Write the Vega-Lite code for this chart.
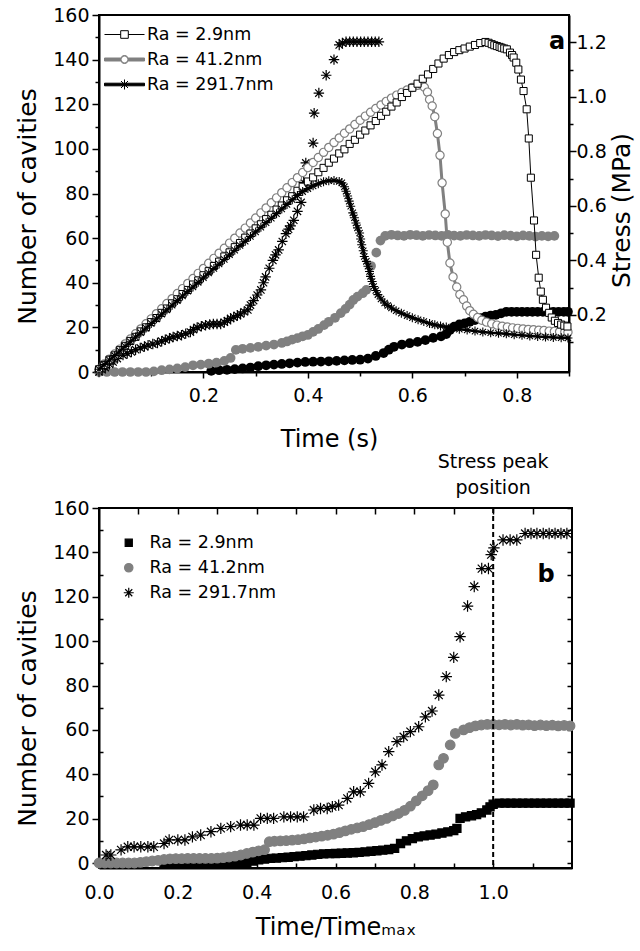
{
  "$schema": "https://vega.github.io/schema/vega-lite/v6.json",
  "padding": {"left": 14, "top": 5, "right": 2, "bottom": 0},
  "spacing": 0,
  "config": {
    "font": "DejaVu Sans",
    "view": {"stroke": "black", "strokeWidth": 2},
    "axis": {"domainColor": "black", "domainWidth": 2, "tickColor": "black", "tickWidth": 1.5, "labelColor": "black", "titleColor": "black", "labelFontSize": 19, "titleFontSize": 24, "titleFontWeight": "normal", "grid": false, "labelFont": "DejaVu Sans", "titleFont": "DejaVu Sans", "labelFlush": false, "labelOverlap": false},
    "legend": {"labelFont": "DejaVu Sans", "labelColor": "black", "labelFontSize": 17.5, "padding": 0}
  },
  "datasets": {
    "s29": [{"t":0,"s":0},{"t":0.01,"s":0.016},{"t":0.02,"s":0.035},{"t":0.03,"s":0.051},{"t":0.04,"s":0.07},{"t":0.05,"s":0.086},{"t":0.06,"s":0.104},{"t":0.07,"s":0.119},{"t":0.08,"s":0.139},{"t":0.09,"s":0.154},{"t":0.1,"s":0.173},{"t":0.11,"s":0.188},{"t":0.12,"s":0.207},{"t":0.13,"s":0.223},{"t":0.14,"s":0.242},{"t":0.15,"s":0.257},{"t":0.16,"s":0.276},{"t":0.17,"s":0.291},{"t":0.18,"s":0.311},{"t":0.19,"s":0.326},{"t":0.2,"s":0.345},{"t":0.21,"s":0.36},{"t":0.22,"s":0.379},{"t":0.23,"s":0.395},{"t":0.24,"s":0.414},{"t":0.25,"s":0.429},{"t":0.26,"s":0.448},{"t":0.27,"s":0.463},{"t":0.28,"s":0.483},{"t":0.29,"s":0.498},{"t":0.3,"s":0.517},{"t":0.31,"s":0.532},{"t":0.32,"s":0.551},{"t":0.33,"s":0.567},{"t":0.34,"s":0.586},{"t":0.35,"s":0.601},{"t":0.36,"s":0.62},{"t":0.37,"s":0.635},{"t":0.38,"s":0.655},{"t":0.39,"s":0.67},{"t":0.4,"s":0.689},{"t":0.41,"s":0.704},{"t":0.42,"s":0.723},{"t":0.43,"s":0.739},{"t":0.44,"s":0.758},{"t":0.45,"s":0.773},{"t":0.46,"s":0.792},{"t":0.47,"s":0.807},{"t":0.48,"s":0.827},{"t":0.49,"s":0.842},{"t":0.5,"s":0.861},{"t":0.51,"s":0.876},{"t":0.52,"s":0.895},{"t":0.53,"s":0.911},{"t":0.54,"s":0.93},{"t":0.55,"s":0.945},{"t":0.56,"s":0.964},{"t":0.57,"s":0.979},{"t":0.58,"s":0.999},{"t":0.59,"s":1.014},{"t":0.6,"s":1.033},{"t":0.61,"s":1.048},{"t":0.62,"s":1.066},{"t":0.63,"s":1.082},{"t":0.64,"s":1.102},{"t":0.65,"s":1.122},{"t":0.66,"s":1.14},{"t":0.67,"s":1.153},{"t":0.68,"s":1.164},{"t":0.69,"s":1.171},{"t":0.7,"s":1.177},{"t":0.71,"s":1.184},{"t":0.72,"s":1.19},{"t":0.73,"s":1.197},{"t":0.74,"s":1.201},{"t":0.746,"s":1.198},{"t":0.752,"s":1.193},{"t":0.757,"s":1.189},{"t":0.762,"s":1.186},{"t":0.767,"s":1.183},{"t":0.771,"s":1.18},{"t":0.776,"s":1.177},{"t":0.781,"s":1.174},{"t":0.787,"s":1.162},{"t":0.791,"s":1.153},{"t":0.794,"s":1.144},{"t":0.799,"s":1.125},{"t":0.803,"s":1.1},{"t":0.808,"s":1.063},{"t":0.813,"s":1.021},{"t":0.819,"s":0.954},{"t":0.823,"s":0.847},{"t":0.827,"s":0.703},{"t":0.833,"s":0.546},{"t":0.837,"s":0.42},{"t":0.842,"s":0.336},{"t":0.846,"s":0.285},{"t":0.85,"s":0.255},{"t":0.856,"s":0.226},{"t":0.862,"s":0.207},{"t":0.867,"s":0.19},{"t":0.873,"s":0.178},{"t":0.879,"s":0.17},{"t":0.885,"s":0.164},{"t":0.891,"s":0.16},{"t":0.897,"s":0.157}],
    "s412": [{"t":0,"s":0},{"t":0.01,"s":0.019},{"t":0.02,"s":0.037},{"t":0.03,"s":0.056},{"t":0.04,"s":0.074},{"t":0.05,"s":0.093},{"t":0.06,"s":0.111},{"t":0.07,"s":0.13},{"t":0.08,"s":0.148},{"t":0.09,"s":0.167},{"t":0.1,"s":0.185},{"t":0.11,"s":0.204},{"t":0.12,"s":0.222},{"t":0.13,"s":0.241},{"t":0.14,"s":0.259},{"t":0.15,"s":0.278},{"t":0.16,"s":0.296},{"t":0.17,"s":0.315},{"t":0.18,"s":0.333},{"t":0.19,"s":0.352},{"t":0.2,"s":0.37},{"t":0.21,"s":0.389},{"t":0.22,"s":0.407},{"t":0.23,"s":0.426},{"t":0.24,"s":0.444},{"t":0.25,"s":0.463},{"t":0.26,"s":0.481},{"t":0.27,"s":0.5},{"t":0.28,"s":0.518},{"t":0.29,"s":0.537},{"t":0.3,"s":0.555},{"t":0.31,"s":0.574},{"t":0.32,"s":0.592},{"t":0.33,"s":0.611},{"t":0.34,"s":0.629},{"t":0.35,"s":0.648},{"t":0.36,"s":0.666},{"t":0.37,"s":0.685},{"t":0.38,"s":0.703},{"t":0.39,"s":0.722},{"t":0.4,"s":0.74},{"t":0.41,"s":0.759},{"t":0.42,"s":0.777},{"t":0.43,"s":0.796},{"t":0.44,"s":0.814},{"t":0.45,"s":0.832},{"t":0.46,"s":0.849},{"t":0.47,"s":0.866},{"t":0.48,"s":0.882},{"t":0.49,"s":0.898},{"t":0.5,"s":0.914},{"t":0.51,"s":0.929},{"t":0.52,"s":0.943},{"t":0.53,"s":0.957},{"t":0.54,"s":0.97},{"t":0.55,"s":0.983},{"t":0.56,"s":0.995},{"t":0.57,"s":1.006},{"t":0.58,"s":1.016},{"t":0.59,"s":1.025},{"t":0.6,"s":1.034},{"t":0.61,"s":1.042},{"t":0.617,"s":1.045},{"t":0.623,"s":1.035},{"t":0.629,"s":1.017},{"t":0.633,"s":0.99},{"t":0.638,"s":0.966},{"t":0.643,"s":0.927},{"t":0.648,"s":0.865},{"t":0.653,"s":0.785},{"t":0.657,"s":0.684},{"t":0.663,"s":0.57},{"t":0.667,"s":0.466},{"t":0.672,"s":0.39},{"t":0.678,"s":0.339},{"t":0.685,"s":0.302},{"t":0.691,"s":0.274},{"t":0.698,"s":0.255},{"t":0.704,"s":0.232},{"t":0.71,"s":0.215},{"t":0.717,"s":0.202},{"t":0.725,"s":0.19},{"t":0.733,"s":0.18},{"t":0.742,"s":0.173},{"t":0.752,"s":0.167},{"t":0.762,"s":0.162},{"t":0.772,"s":0.158},{"t":0.782,"s":0.155},{"t":0.792,"s":0.152},{"t":0.802,"s":0.15},{"t":0.812,"s":0.148},{"t":0.822,"s":0.146},{"t":0.832,"s":0.145},{"t":0.842,"s":0.143},{"t":0.852,"s":0.142},{"t":0.862,"s":0.14},{"t":0.872,"s":0.139},{"t":0.882,"s":0.138},{"t":0.892,"s":0.137},{"t":0.898,"s":0.136}],
    "s2917": [{"t":0,"s":0},{"t":0.01,"s":0.017},{"t":0.02,"s":0.034},{"t":0.03,"s":0.05},{"t":0.04,"s":0.067},{"t":0.05,"s":0.084},{"t":0.06,"s":0.101},{"t":0.07,"s":0.118},{"t":0.08,"s":0.134},{"t":0.09,"s":0.151},{"t":0.1,"s":0.168},{"t":0.11,"s":0.185},{"t":0.12,"s":0.202},{"t":0.13,"s":0.218},{"t":0.14,"s":0.235},{"t":0.15,"s":0.252},{"t":0.16,"s":0.269},{"t":0.17,"s":0.286},{"t":0.18,"s":0.302},{"t":0.19,"s":0.319},{"t":0.2,"s":0.336},{"t":0.21,"s":0.353},{"t":0.22,"s":0.37},{"t":0.23,"s":0.386},{"t":0.24,"s":0.403},{"t":0.25,"s":0.42},{"t":0.26,"s":0.437},{"t":0.27,"s":0.454},{"t":0.28,"s":0.47},{"t":0.29,"s":0.487},{"t":0.3,"s":0.504},{"t":0.31,"s":0.521},{"t":0.32,"s":0.538},{"t":0.33,"s":0.554},{"t":0.34,"s":0.571},{"t":0.35,"s":0.588},{"t":0.36,"s":0.605},{"t":0.37,"s":0.622},{"t":0.38,"s":0.638},{"t":0.39,"s":0.652},{"t":0.4,"s":0.663},{"t":0.41,"s":0.673},{"t":0.42,"s":0.681},{"t":0.43,"s":0.688},{"t":0.44,"s":0.692},{"t":0.45,"s":0.693},{"t":0.46,"s":0.689},{"t":0.465,"s":0.684},{"t":0.47,"s":0.67},{"t":0.473,"s":0.653},{"t":0.476,"s":0.636},{"t":0.479,"s":0.617},{"t":0.482,"s":0.598},{"t":0.486,"s":0.574},{"t":0.489,"s":0.556},{"t":0.492,"s":0.537},{"t":0.495,"s":0.519},{"t":0.499,"s":0.5},{"t":0.501,"s":0.478},{"t":0.503,"s":0.457},{"t":0.506,"s":0.435},{"t":0.508,"s":0.414},{"t":0.512,"s":0.396},{"t":0.515,"s":0.378},{"t":0.518,"s":0.359},{"t":0.52,"s":0.341},{"t":0.523,"s":0.322},{"t":0.526,"s":0.304},{"t":0.53,"s":0.289},{"t":0.534,"s":0.274},{"t":0.54,"s":0.258},{"t":0.547,"s":0.243},{"t":0.553,"s":0.234},{"t":0.56,"s":0.225},{"t":0.569,"s":0.215},{"t":0.579,"s":0.206},{"t":0.59,"s":0.197},{"t":0.6,"s":0.189},{"t":0.611,"s":0.182},{"t":0.622,"s":0.175},{"t":0.633,"s":0.168},{"t":0.643,"s":0.163},{"t":0.654,"s":0.159},{"t":0.665,"s":0.155},{"t":0.675,"s":0.151},{"t":0.69,"s":0.147},{"t":0.705,"s":0.144},{"t":0.72,"s":0.14},{"t":0.735,"s":0.137},{"t":0.75,"s":0.134},{"t":0.765,"s":0.132},{"t":0.78,"s":0.13},{"t":0.795,"s":0.127},{"t":0.81,"s":0.125},{"t":0.825,"s":0.122},{"t":0.84,"s":0.12},{"t":0.855,"s":0.118},{"t":0.87,"s":0.117},{"t":0.885,"s":0.116},{"t":0.898,"s":0.115}],
    "c29": [{"t":0.215,"n":0.5},{"t":0.23,"n":0.8},{"t":0.245,"n":1},{"t":0.26,"n":1.3},{"t":0.275,"n":1.6},{"t":0.29,"n":2},{"t":0.305,"n":2.6},{"t":0.32,"n":3},{"t":0.335,"n":3.3},{"t":0.35,"n":3.6},{"t":0.365,"n":3.9},{"t":0.38,"n":4.2},{"t":0.395,"n":4.5},{"t":0.41,"n":4.6},{"t":0.425,"n":4.7},{"t":0.44,"n":4.8},{"t":0.455,"n":5},{"t":0.47,"n":5.2},{"t":0.485,"n":5.4},{"t":0.5,"n":5.5},{"t":0.515,"n":6},{"t":0.53,"n":7.2},{"t":0.545,"n":8.5},{"t":0.555,"n":10},{"t":0.565,"n":11.3},{"t":0.58,"n":12.3},{"t":0.595,"n":12.9},{"t":0.61,"n":13.5},{"t":0.625,"n":14.3},{"t":0.64,"n":15.3},{"t":0.655,"n":16},{"t":0.665,"n":17},{"t":0.672,"n":18.8},{"t":0.68,"n":20.3},{"t":0.69,"n":21.3},{"t":0.7,"n":21.8},{"t":0.71,"n":22.5},{"t":0.72,"n":23.3},{"t":0.73,"n":24.1},{"t":0.74,"n":24.8},{"t":0.75,"n":25.3},{"t":0.76,"n":25.6},{"t":0.77,"n":26.3},{"t":0.78,"n":27},{"t":0.79,"n":27},{"t":0.8,"n":27},{"t":0.81,"n":27},{"t":0.82,"n":27},{"t":0.83,"n":27},{"t":0.84,"n":27},{"t":0.85,"n":27},{"t":0.86,"n":27},{"t":0.87,"n":27},{"t":0.88,"n":27},{"t":0.89,"n":27},{"t":0.898,"n":27}],
    "c412": [{"t":0,"n":0},{"t":0.015,"n":0},{"t":0.03,"n":0},{"t":0.045,"n":0},{"t":0.06,"n":0},{"t":0.075,"n":0},{"t":0.09,"n":0},{"t":0.105,"n":0.3},{"t":0.12,"n":0.8},{"t":0.135,"n":1.2},{"t":0.15,"n":1.6},{"t":0.165,"n":2.2},{"t":0.18,"n":3},{"t":0.195,"n":3.3},{"t":0.21,"n":3.7},{"t":0.225,"n":4.2},{"t":0.24,"n":5},{"t":0.252,"n":6.3},{"t":0.262,"n":9.9},{"t":0.275,"n":10.4},{"t":0.29,"n":10.8},{"t":0.305,"n":11.3},{"t":0.32,"n":11.8},{"t":0.335,"n":12.3},{"t":0.35,"n":13},{"t":0.36,"n":13.7},{"t":0.37,"n":14.5},{"t":0.38,"n":15.2},{"t":0.39,"n":16},{"t":0.4,"n":16.6},{"t":0.41,"n":18},{"t":0.42,"n":19.3},{"t":0.431,"n":21},{"t":0.44,"n":22.5},{"t":0.452,"n":24.3},{"t":0.463,"n":26.4},{"t":0.472,"n":28.3},{"t":0.48,"n":30.2},{"t":0.487,"n":32.3},{"t":0.495,"n":33.8},{"t":0.505,"n":35.3},{"t":0.512,"n":36.8},{"t":0.521,"n":47.5},{"t":0.531,"n":53.5},{"t":0.539,"n":58.9},{"t":0.548,"n":61},{"t":0.56,"n":61.5},{"t":0.572,"n":61.2},{"t":0.584,"n":61},{"t":0.596,"n":61.5},{"t":0.608,"n":61.3},{"t":0.62,"n":61},{"t":0.632,"n":61.4},{"t":0.644,"n":61.2},{"t":0.656,"n":61},{"t":0.668,"n":61.5},{"t":0.68,"n":61.1},{"t":0.692,"n":61},{"t":0.704,"n":61.4},{"t":0.716,"n":61.2},{"t":0.728,"n":61},{"t":0.74,"n":61.4},{"t":0.752,"n":61.2},{"t":0.764,"n":60.9},{"t":0.776,"n":61.3},{"t":0.788,"n":61.1},{"t":0.8,"n":60.8},{"t":0.812,"n":61.2},{"t":0.824,"n":61},{"t":0.836,"n":60.7},{"t":0.848,"n":61},{"t":0.86,"n":60.8},{"t":0.872,"n":61}],
    "c2917": [{"t":0,"n":0},{"t":0.006,"n":1},{"t":0.012,"n":2},{"t":0.02,"n":3.5},{"t":0.027,"n":4.5},{"t":0.035,"n":6},{"t":0.046,"n":7.6},{"t":0.054,"n":8.3},{"t":0.062,"n":9},{"t":0.07,"n":10},{"t":0.079,"n":10.8},{"t":0.087,"n":11.4},{"t":0.094,"n":12},{"t":0.103,"n":12.5},{"t":0.112,"n":13},{"t":0.12,"n":13.8},{"t":0.127,"n":14.5},{"t":0.135,"n":15.1},{"t":0.142,"n":15.7},{"t":0.15,"n":16.1},{"t":0.158,"n":16.5},{"t":0.166,"n":17.2},{"t":0.175,"n":17.9},{"t":0.181,"n":19},{"t":0.188,"n":20},{"t":0.196,"n":20.5},{"t":0.204,"n":21},{"t":0.212,"n":21.3},{"t":0.219,"n":21.5},{"t":0.226,"n":21.5},{"t":0.233,"n":21.5},{"t":0.24,"n":22.3},{"t":0.246,"n":23},{"t":0.252,"n":24},{"t":0.258,"n":24.6},{"t":0.265,"n":25.3},{"t":0.271,"n":26},{"t":0.278,"n":27},{"t":0.285,"n":27.8},{"t":0.29,"n":30},{"t":0.296,"n":32},{"t":0.303,"n":34.5},{"t":0.31,"n":36.8},{"t":0.315,"n":40},{"t":0.319,"n":42.6},{"t":0.326,"n":46.5},{"t":0.333,"n":50},{"t":0.338,"n":52.5},{"t":0.344,"n":54.7},{"t":0.351,"n":58.5},{"t":0.358,"n":62},{"t":0.363,"n":64},{"t":0.367,"n":65.5},{"t":0.373,"n":68},{"t":0.38,"n":72},{"t":0.387,"n":76},{"t":0.392,"n":85},{"t":0.396,"n":93.7},{"t":0.41,"n":102.6},{"t":0.412,"n":116},{"t":0.421,"n":125},{"t":0.435,"n":133},{"t":0.45,"n":140},{"t":0.46,"n":146.6},{"t":0.466,"n":147.5},{"t":0.473,"n":148},{"t":0.48,"n":148},{"t":0.487,"n":148},{"t":0.494,"n":148},{"t":0.501,"n":148},{"t":0.508,"n":148},{"t":0.515,"n":148},{"t":0.522,"n":148},{"t":0.529,"n":148},{"t":0.536,"n":148}],
    "pb": [
      {"ra":"2.9","tn":0.165,"n":0},{"ra":"2.9","tn":0.18,"n":0},{"ra":"2.9","tn":0.195,"n":0},{"ra":"2.9","tn":0.21,"n":0},{"ra":"2.9","tn":0.225,"n":0},{"ra":"2.9","tn":0.24,"n":0},{"ra":"2.9","tn":0.255,"n":0},{"ra":"2.9","tn":0.27,"n":0},{"ra":"2.9","tn":0.285,"n":0},{"ra":"2.9","tn":0.3,"n":0},{"ra":"2.9","tn":0.315,"n":0},{"ra":"2.9","tn":0.33,"n":0},{"ra":"2.9","tn":0.345,"n":0},{"ra":"2.9","tn":0.36,"n":0},{"ra":"2.9","tn":0.375,"n":0.3},{"ra":"2.9","tn":0.39,"n":0.9},{"ra":"2.9","tn":0.405,"n":1.4},{"ra":"2.9","tn":0.42,"n":1.8},{"ra":"2.9","tn":0.435,"n":2.1},{"ra":"2.9","tn":0.45,"n":2.2},{"ra":"2.9","tn":0.465,"n":2.4},{"ra":"2.9","tn":0.48,"n":2.6},{"ra":"2.9","tn":0.495,"n":2.9},{"ra":"2.9","tn":0.51,"n":3.1},{"ra":"2.9","tn":0.525,"n":3.3},{"ra":"2.9","tn":0.54,"n":3.6},{"ra":"2.9","tn":0.555,"n":3.9},{"ra":"2.9","tn":0.57,"n":4.1},{"ra":"2.9","tn":0.585,"n":4.2},{"ra":"2.9","tn":0.6,"n":4.3},{"ra":"2.9","tn":0.615,"n":4.4},{"ra":"2.9","tn":0.63,"n":4.5},{"ra":"2.9","tn":0.645,"n":4.6},{"ra":"2.9","tn":0.66,"n":4.8},{"ra":"2.9","tn":0.675,"n":5},{"ra":"2.9","tn":0.69,"n":5.3},{"ra":"2.9","tn":0.705,"n":5.5},{"ra":"2.9","tn":0.72,"n":5.8},{"ra":"2.9","tn":0.735,"n":6.1},{"ra":"2.9","tn":0.75,"n":6.6},{"ra":"2.9","tn":0.765,"n":8.8},{"ra":"2.9","tn":0.78,"n":10},{"ra":"2.9","tn":0.795,"n":11},{"ra":"2.9","tn":0.81,"n":11.8},{"ra":"2.9","tn":0.825,"n":12.2},{"ra":"2.9","tn":0.84,"n":12.6},{"ra":"2.9","tn":0.855,"n":13},{"ra":"2.9","tn":0.87,"n":13.5},{"ra":"2.9","tn":0.885,"n":14},{"ra":"2.9","tn":0.9,"n":14.6},{"ra":"2.9","tn":0.908,"n":15.6},{"ra":"2.9","tn":0.916,"n":20.1},{"ra":"2.9","tn":0.93,"n":20.8},{"ra":"2.9","tn":0.945,"n":21.3},{"ra":"2.9","tn":0.958,"n":21.8},{"ra":"2.9","tn":0.97,"n":22.6},{"ra":"2.9","tn":0.984,"n":23.9},{"ra":"2.9","tn":0.992,"n":25.3},{"ra":"2.9","tn":1.0,"n":26.5},{"ra":"2.9","tn":1.015,"n":27},{"ra":"2.9","tn":1.03,"n":27},{"ra":"2.9","tn":1.045,"n":27},{"ra":"2.9","tn":1.06,"n":27},{"ra":"2.9","tn":1.075,"n":27},{"ra":"2.9","tn":1.09,"n":27},{"ra":"2.9","tn":1.105,"n":27},{"ra":"2.9","tn":1.12,"n":27},{"ra":"2.9","tn":1.135,"n":27},{"ra":"2.9","tn":1.15,"n":27},{"ra":"2.9","tn":1.165,"n":27},{"ra":"2.9","tn":1.18,"n":27},{"ra":"2.9","tn":1.195,"n":27},
      {"ra":"41.2","tn":0,"n":0},{"ra":"41.2","tn":0.015,"n":0},{"ra":"41.2","tn":0.03,"n":0},{"ra":"41.2","tn":0.045,"n":0},{"ra":"41.2","tn":0.06,"n":0},{"ra":"41.2","tn":0.075,"n":0},{"ra":"41.2","tn":0.09,"n":0},{"ra":"41.2","tn":0.105,"n":0.3},{"ra":"41.2","tn":0.12,"n":0.6},{"ra":"41.2","tn":0.135,"n":0.9},{"ra":"41.2","tn":0.15,"n":1.2},{"ra":"41.2","tn":0.165,"n":1.6},{"ra":"41.2","tn":0.18,"n":1.9},{"ra":"41.2","tn":0.195,"n":2},{"ra":"41.2","tn":0.21,"n":2},{"ra":"41.2","tn":0.225,"n":2.1},{"ra":"41.2","tn":0.24,"n":2.1},{"ra":"41.2","tn":0.255,"n":2.1},{"ra":"41.2","tn":0.27,"n":2.1},{"ra":"41.2","tn":0.285,"n":2.1},{"ra":"41.2","tn":0.3,"n":2.2},{"ra":"41.2","tn":0.315,"n":2.4},{"ra":"41.2","tn":0.33,"n":2.7},{"ra":"41.2","tn":0.345,"n":3.1},{"ra":"41.2","tn":0.36,"n":3.6},{"ra":"41.2","tn":0.375,"n":4.3},{"ra":"41.2","tn":0.39,"n":4.9},{"ra":"41.2","tn":0.405,"n":5.5},{"ra":"41.2","tn":0.42,"n":6},{"ra":"41.2","tn":0.432,"n":9.6},{"ra":"41.2","tn":0.445,"n":9.8},{"ra":"41.2","tn":0.46,"n":10},{"ra":"41.2","tn":0.475,"n":10.1},{"ra":"41.2","tn":0.49,"n":10.3},{"ra":"41.2","tn":0.505,"n":10.5},{"ra":"41.2","tn":0.52,"n":10.9},{"ra":"41.2","tn":0.535,"n":11.3},{"ra":"41.2","tn":0.55,"n":11.7},{"ra":"41.2","tn":0.565,"n":12.1},{"ra":"41.2","tn":0.58,"n":12.5},{"ra":"41.2","tn":0.595,"n":13},{"ra":"41.2","tn":0.61,"n":13.7},{"ra":"41.2","tn":0.625,"n":14.5},{"ra":"41.2","tn":0.64,"n":15.2},{"ra":"41.2","tn":0.655,"n":15.8},{"ra":"41.2","tn":0.67,"n":16.4},{"ra":"41.2","tn":0.685,"n":17.3},{"ra":"41.2","tn":0.7,"n":18.2},{"ra":"41.2","tn":0.715,"n":19.2},{"ra":"41.2","tn":0.73,"n":20.1},{"ra":"41.2","tn":0.745,"n":21.2},{"ra":"41.2","tn":0.76,"n":22.3},{"ra":"41.2","tn":0.775,"n":23.7},{"ra":"41.2","tn":0.79,"n":25.6},{"ra":"41.2","tn":0.805,"n":28},{"ra":"41.2","tn":0.82,"n":30.3},{"ra":"41.2","tn":0.835,"n":32.6},{"ra":"41.2","tn":0.848,"n":35.2},{"ra":"41.2","tn":0.862,"n":44.2},{"ra":"41.2","tn":0.874,"n":47.2},{"ra":"41.2","tn":0.891,"n":53.2},{"ra":"41.2","tn":0.904,"n":58.4},{"ra":"41.2","tn":0.925,"n":60},{"ra":"41.2","tn":0.94,"n":61},{"ra":"41.2","tn":0.955,"n":61.8},{"ra":"41.2","tn":0.97,"n":62.2},{"ra":"41.2","tn":0.985,"n":62.5},{"ra":"41.2","tn":1.0,"n":62.5},{"ra":"41.2","tn":1.015,"n":62.3},{"ra":"41.2","tn":1.03,"n":62.5},{"ra":"41.2","tn":1.045,"n":62.2},{"ra":"41.2","tn":1.06,"n":62.5},{"ra":"41.2","tn":1.075,"n":62.1},{"ra":"41.2","tn":1.09,"n":62.3},{"ra":"41.2","tn":1.105,"n":61.9},{"ra":"41.2","tn":1.12,"n":62.2},{"ra":"41.2","tn":1.135,"n":61.9},{"ra":"41.2","tn":1.15,"n":62.1},{"ra":"41.2","tn":1.165,"n":61.8},{"ra":"41.2","tn":1.18,"n":62},{"ra":"41.2","tn":1.195,"n":61.8},
      {"ra":"291.7","tn":0.018,"n":3.6},{"ra":"291.7","tn":0.03,"n":3.6},{"ra":"291.7","tn":0.056,"n":5.9},{"ra":"291.7","tn":0.073,"n":7.3},{"ra":"291.7","tn":0.089,"n":7.3},{"ra":"291.7","tn":0.106,"n":7.3},{"ra":"291.7","tn":0.124,"n":7.3},{"ra":"291.7","tn":0.139,"n":7.3},{"ra":"291.7","tn":0.165,"n":8.8},{"ra":"291.7","tn":0.178,"n":10.4},{"ra":"291.7","tn":0.2,"n":10.4},{"ra":"291.7","tn":0.218,"n":10.4},{"ra":"291.7","tn":0.237,"n":11.8},{"ra":"291.7","tn":0.258,"n":12.6},{"ra":"291.7","tn":0.284,"n":14.1},{"ra":"291.7","tn":0.309,"n":15.6},{"ra":"291.7","tn":0.334,"n":16.4},{"ra":"291.7","tn":0.359,"n":17.1},{"ra":"291.7","tn":0.376,"n":17.1},{"ra":"291.7","tn":0.393,"n":17.1},{"ra":"291.7","tn":0.41,"n":20.1},{"ra":"291.7","tn":0.427,"n":20.1},{"ra":"291.7","tn":0.443,"n":20.1},{"ra":"291.7","tn":0.469,"n":20.8},{"ra":"291.7","tn":0.486,"n":20.8},{"ra":"291.7","tn":0.503,"n":20.8},{"ra":"291.7","tn":0.519,"n":20.8},{"ra":"291.7","tn":0.545,"n":23.9},{"ra":"291.7","tn":0.562,"n":24.6},{"ra":"291.7","tn":0.579,"n":24.6},{"ra":"291.7","tn":0.592,"n":25.4},{"ra":"291.7","tn":0.608,"n":26.1},{"ra":"291.7","tn":0.63,"n":29.1},{"ra":"291.7","tn":0.646,"n":32.1},{"ra":"291.7","tn":0.663,"n":32.1},{"ra":"291.7","tn":0.684,"n":35.9},{"ra":"291.7","tn":0.701,"n":41.1},{"ra":"291.7","tn":0.718,"n":44.2},{"ra":"291.7","tn":0.735,"n":50.2},{"ra":"291.7","tn":0.756,"n":54.7},{"ra":"291.7","tn":0.773,"n":56.9},{"ra":"291.7","tn":0.79,"n":59.2},{"ra":"291.7","tn":0.811,"n":61.4},{"ra":"291.7","tn":0.828,"n":65.9},{"ra":"291.7","tn":0.845,"n":68.5},{"ra":"291.7","tn":0.862,"n":75.7},{"ra":"291.7","tn":0.881,"n":84},{"ra":"291.7","tn":0.9,"n":92.7},{"ra":"291.7","tn":0.916,"n":102},{"ra":"291.7","tn":0.935,"n":115.8},{"ra":"291.7","tn":0.952,"n":124.6},{"ra":"291.7","tn":0.971,"n":132.7},{"ra":"291.7","tn":0.988,"n":132.7},{"ra":"291.7","tn":0.995,"n":139},{"ra":"291.7","tn":1.002,"n":142},{"ra":"291.7","tn":1.025,"n":145.6},{"ra":"291.7","tn":1.043,"n":145.6},{"ra":"291.7","tn":1.06,"n":145.6},{"ra":"291.7","tn":1.081,"n":148.5},{"ra":"291.7","tn":1.096,"n":148.5},{"ra":"291.7","tn":1.111,"n":148.5},{"ra":"291.7","tn":1.127,"n":148.5},{"ra":"291.7","tn":1.142,"n":148.5},{"ra":"291.7","tn":1.157,"n":148.5},{"ra":"291.7","tn":1.172,"n":148.5},{"ra":"291.7","tn":1.187,"n":148.5}
    ],
    "peak": [{"tn": 1.0}]
  },
  "resolve": {"scale": {"shape": "independent", "fill": "independent", "stroke": "independent"}, "legend": {"shape": "independent", "fill": "independent", "stroke": "independent"}},
  "vconcat": [
    {
      "width": 470,
      "height": 357,
      "layer": [
        {
          "layer": [
            {
              "data": {"name": "c29"},
              "mark": {"type": "point", "shape": "circle", "filled": true, "fill": "black", "size": 95, "opacity": 1},
              "encoding": {
                "x": {"field": "t", "type": "quantitative", "scale": {"domain": [0, 0.9], "nice": false, "zero": false},
                  "axis": {"orient": "bottom", "title": "Time (s)", "titleX": 230, "values": [0.1, 0.2, 0.3, 0.4, 0.5, 0.6, 0.7, 0.8, 0.9], "format": ".1f", "labelExpr": "round(datum.value*10) % 2 == 0 ? datum.label : ''", "tickSize": {"condition": {"test": "round(datum.value*10) % 2 == 0", "value": 6}, "value": 4}, "labelPadding": 8, "titlePadding": 22}},
                "y": {"field": "n", "type": "quantitative", "scale": {"domain": [0, 160], "nice": false},
                  "axis": {"orient": "left", "title": "Number of cavities", "titleFontSize": 25, "titleY": 191, "values": [0, 10, 20, 30, 40, 50, 60, 70, 80, 90, 100, 110, 120, 130, 140, 150, 160], "labelExpr": "datum.value % 20 == 0 ? datum.label : ''", "tickSize": {"condition": {"test": "datum.value % 20 == 0", "value": 7}, "value": 4}, "labelPadding": 3, "titlePadding": 12}}
              }
            },
            {
              "data": {"name": "c412"},
              "mark": {"type": "point", "shape": "circle", "filled": true, "fill": "#808080", "size": 95, "opacity": 1},
              "encoding": {
                "x": {"field": "t", "type": "quantitative", "axis": null},
                "y": {"field": "n", "type": "quantitative", "axis": null}
              }
            },
            {
              "data": {"name": "c2917"},
              "mark": {"type": "point", "shape": "M0,-1V1M-1,0H1M-0.7,-0.7L0.7,0.7M-0.7,0.7L0.7,-0.7", "filled": false, "stroke": "black", "strokeWidth": 1.2, "size": 110, "opacity": 1},
              "encoding": {
                "x": {"field": "t", "type": "quantitative", "axis": null},
                "y": {"field": "n", "type": "quantitative", "axis": null}
              }
            },
            {
              "data": {"values": [{"label": "a"}]},
              "mark": {"type": "text", "fontSize": 24, "fontWeight": "bold", "color": "black"},
              "encoding": {
                "text": {"field": "label"},
                "x": {"datum": 0.877, "type": "quantitative", "axis": null},
                "y": {"datum": 148, "type": "quantitative", "axis": null}
              }
            }
          ],
          "resolve": {"axis": {"x": "independent", "y": "independent"}}
        },
        {
          "layer": [
            {
              "data": {"name": "s412"},
              "mark": {"type": "line", "stroke": "#808080", "strokeWidth": 3},
              "encoding": {
                "x": {"field": "t", "type": "quantitative", "axis": null},
                "y": {"field": "s", "type": "quantitative", "scale": {"domain": [-0.01, 1.3], "nice": false, "zero": false},
                  "axis": {"orient": "right", "title": "Stress (MPa)", "titleFontSize": 25, "titleY": 195, "titleAngle": 270, "titleBaseline": "top", "values": [0.1, 0.2, 0.3, 0.4, 0.5, 0.6, 0.7, 0.8, 0.9, 1.0, 1.1, 1.2], "format": ".1f", "labelExpr": "round(datum.value*10) % 2 == 0 ? datum.label : ''", "tickSize": {"condition": {"test": "round(datum.value*10) % 2 == 0", "value": 7}, "value": 4}, "labelPadding": 0, "titlePadding": 3}}
              }
            },
            {
              "data": {"name": "s412"},
              "mark": {"type": "point", "shape": "circle", "filled": true, "fill": "white", "stroke": "#808080", "strokeWidth": 1.2, "size": 68, "opacity": 1},
              "encoding": {
                "x": {"field": "t", "type": "quantitative", "axis": null},
                "y": {"field": "s", "type": "quantitative", "axis": null}
              }
            },
            {
              "data": {"name": "s29"},
              "mark": {"type": "line", "stroke": "black", "strokeWidth": 1},
              "encoding": {
                "x": {"field": "t", "type": "quantitative", "axis": null},
                "y": {"field": "s", "type": "quantitative", "axis": null}
              }
            },
            {
              "data": {"name": "s29"},
              "mark": {"type": "point", "shape": "square", "filled": true, "fill": "white", "stroke": "black", "strokeWidth": 1, "size": 50, "opacity": 1},
              "encoding": {
                "x": {"field": "t", "type": "quantitative", "axis": null},
                "y": {"field": "s", "type": "quantitative", "axis": null}
              }
            },
            {
              "data": {"name": "s2917"},
              "mark": {"type": "line", "stroke": "black", "strokeWidth": 2.5},
              "encoding": {
                "x": {"field": "t", "type": "quantitative", "axis": null},
                "y": {"field": "s", "type": "quantitative", "axis": null}
              }
            },
            {
              "data": {"name": "s2917"},
              "mark": {"type": "point", "shape": "M0,-1V1M-1,0H1M-0.7,-0.7L0.7,0.7M-0.7,0.7L0.7,-0.7", "filled": false, "stroke": "black", "strokeWidth": 1.1, "size": 81, "opacity": 1},
              "encoding": {
                "x": {"field": "t", "type": "quantitative", "axis": null},
                "y": {"field": "s", "type": "quantitative", "axis": null}
              }
            },
            {
              "data": {"name": "s29"},
              "transform": [{"filter": "datum.t < 0"}],
              "mark": {"type": "point", "filled": true, "opacity": 1, "strokeWidth": 1},
              "encoding": {
                "x": {"field": "t", "type": "quantitative", "axis": null},
                "y": {"field": "s", "type": "quantitative", "axis": null},
                "shape": {"field": "ra", "type": "nominal",
                  "scale": {"domain": ["2.9", "41.2", "291.7"], "range": ["M-2,0H-0.38M0.38,0H2M-0.38,-0.38H0.38V0.38H-0.38Z", "M-2,-0.15H-0.4V0.15H-2ZM0.4,-0.15H2V0.15H0.4ZM0.4,0A0.4,0.4,0,1,1,-0.4,0A0.4,0.4,0,1,1,0.4,0ZM0.34,0A0.34,0.34,0,1,0,-0.34,0A0.34,0.34,0,1,0,0.34,0Z", "M-2,-0.13H2V0.13H-2ZM0,-0.5V0.5M-0.35,-0.35L0.35,0.35M-0.35,0.35L0.35,-0.35"]},
                  "legend": {"title": null, "orient": "none", "legendX": 15, "legendY": 9, "symbolSize": 400, "symbolStrokeWidth": 1, "labelOffset": 12, "rowPadding": 6, "labelFontSize": 17.5, "labelExpr": "'Ra = ' + datum.label + 'nm'"}},
                "fill": {"field": "ra", "type": "nominal",
                  "scale": {"domain": ["2.9", "41.2", "291.7"], "range": ["white", "#808080", "black"]},
                  "legend": {"title": null, "orient": "none", "legendX": 15, "legendY": 9, "symbolSize": 400, "symbolStrokeWidth": 1, "labelOffset": 12, "rowPadding": 6, "labelFontSize": 17.5, "labelExpr": "'Ra = ' + datum.label + 'nm'"}},
                "stroke": {"field": "ra", "type": "nominal",
                  "scale": {"domain": ["2.9", "41.2", "291.7"], "range": ["black", "#808080", "black"]},
                  "legend": {"title": null, "orient": "none", "legendX": 15, "legendY": 9, "symbolSize": 400, "symbolStrokeWidth": 1, "labelOffset": 12, "rowPadding": 6, "labelFontSize": 17.5, "labelExpr": "'Ra = ' + datum.label + 'nm'"}}
              }
            }
          ],
          "resolve": {"axis": {"x": "independent", "y": "independent"}}
        }
      ],
      "resolve": {"scale": {"y": "independent"}, "axis": {"x": "independent", "y": "independent"}}
    },
    {
      "width": 473,
      "height": 360,
      "layer": [
        {
          "data": {"name": "pb"},
          "mark": {"type": "point", "filled": true, "opacity": 1, "strokeWidth": 1.2, "size": 144},
          "encoding": {
            "x": {"field": "tn", "type": "quantitative", "scale": {"domain": [0, 1.2], "nice": false, "zero": false},
              "axis": {"orient": "bottom", "title": "Time/Timeₘₐₓ", "values": [0, 0.1, 0.2, 0.3, 0.4, 0.5, 0.6, 0.7, 0.8, 0.9, 1.0, 1.1], "format": ".1f", "labelExpr": "round(datum.value*10) % 2 == 0 ? datum.label : ''", "tickSize": -5, "labelPadding": 20, "titlePadding": 13}},
            "y": {"field": "n", "type": "quantitative", "scale": {"domain": [-2.25, 160], "nice": false, "zero": false},
              "axis": {"orient": "left", "title": "Number of cavities", "titleFontSize": 25, "titleY": 200, "values": [0, 10, 20, 30, 40, 50, 60, 70, 80, 90, 100, 110, 120, 130, 140, 150, 160], "labelExpr": "datum.value % 20 == 0 ? datum.label : ''", "tickSize": {"condition": {"test": "datum.value % 20 == 0", "value": 7}, "value": -4}, "labelPadding": 3, "titlePadding": 12}},
            "shape": {"field": "ra", "type": "nominal",
              "scale": {"domain": ["2.9", "41.2", "291.7"], "range": ["M-0.68,-0.68H0.68V0.68H-0.68Z", "M0.8,0A0.8,0.8,0,1,1,-0.8,0A0.8,0.8,0,1,1,0.8,0Z", "M0,-0.95V0.95M-0.95,0H0.95M-0.67,-0.67L0.67,0.67M-0.67,0.67L0.67,-0.67"]},
              "legend": {"title": null, "orient": "none", "legendX": 21, "legendY": 26, "symbolSize": 110, "symbolStrokeWidth": 1.2, "labelOffset": 12, "rowPadding": 6, "labelFontSize": 17.5, "labelExpr": "'Ra = ' + datum.label + 'nm'"}},
            "fill": {"field": "ra", "type": "nominal",
              "scale": {"domain": ["2.9", "41.2", "291.7"], "range": ["black", "#808080", "transparent"]},
              "legend": {"title": null, "orient": "none", "legendX": 21, "legendY": 26, "symbolSize": 110, "symbolStrokeWidth": 1.2, "labelOffset": 12, "rowPadding": 6, "labelFontSize": 17.5, "labelExpr": "'Ra = ' + datum.label + 'nm'"}},
            "stroke": {"field": "ra", "type": "nominal",
              "scale": {"domain": ["2.9", "41.2", "291.7"], "range": ["black", "#808080", "black"]},
              "legend": {"title": null, "orient": "none", "legendX": 21, "legendY": 26, "symbolSize": 110, "symbolStrokeWidth": 1.2, "labelOffset": 12, "rowPadding": 6, "labelFontSize": 17.5, "labelExpr": "'Ra = ' + datum.label + 'nm'"}}
          }
        },
        {
          "data": {"name": "peak"},
          "mark": {"type": "rule", "stroke": "black", "strokeWidth": 2, "strokeDash": [5, 3]},
          "encoding": {
            "x": {"field": "tn", "type": "quantitative",
              "axis": {"orient": "top", "title": null, "values": [0.1, 0.2, 0.3, 0.4, 0.5, 0.6, 0.7, 0.8, 0.9, 1.0, 1.1], "labels": false, "domain": false, "tickSize": -6}}
          }
        },
        {
          "data": {"name": "peak"},
          "mark": {"type": "text", "text": ["Stress peak", "position"], "fontSize": 19, "lineHeight": 26, "baseline": "bottom", "align": "center", "dy": -36, "color": "black"},
          "encoding": {
            "x": {"field": "tn", "type": "quantitative", "axis": null},
            "y": {"datum": 160, "type": "quantitative", "axis": null}
          }
        },
        {
          "data": {"values": [{"label": "b"}]},
          "mark": {"type": "text", "fontSize": 24, "fontWeight": "bold", "color": "black"},
          "encoding": {
            "text": {"field": "label"},
            "x": {"datum": 1.134, "type": "quantitative", "axis": null},
            "y": {"datum": 130, "type": "quantitative",
              "axis": {"orient": "right", "title": null, "values": [0, 10, 20, 30, 40, 50, 60, 70, 80, 90, 100, 110, 120, 130, 140, 150, 160], "labels": false, "domain": false, "tickSize": -5}}
          }
        }
      ],
      "resolve": {"axis": {"x": "independent", "y": "independent"}}
    }
  ]
}
